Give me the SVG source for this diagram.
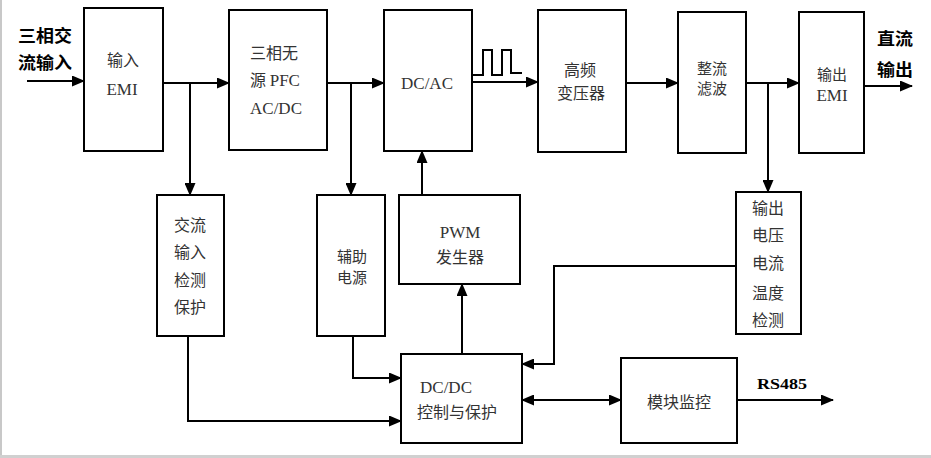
<svg xmlns="http://www.w3.org/2000/svg" width="931" height="458" viewBox="0 0 931 458">
<style>
.box{fill:#fff;stroke:#000;stroke-width:2}
.cn{font-family:"Noto Sans CJK SC","Noto Sans",sans-serif;font-size:16px;fill:#333;text-anchor:middle}
.sm{font-size:15px}
.en{font-family:"Liberation Serif",serif;font-size:17px;fill:#333;text-anchor:middle}
.lbl{font-family:"Noto Sans CJK SC","Noto Sans",sans-serif;font-size:17px;font-weight:bold;fill:#000}
.ln{fill:none;stroke:#000;stroke-width:2}
.arr{marker-end:url(#ah)}
</style>
<defs>
<marker id="ah" markerUnits="userSpaceOnUse" markerWidth="13" markerHeight="11" refX="12" refY="5.5" orient="auto-start-reverse"><path d="M0,0 L13,5.5 L0,11 z" fill="#000"/></marker>
</defs>
<rect x="0" y="0" width="931" height="458" fill="#fff"/>
<line x1="1" y1="0" x2="1" y2="458" stroke="#c8c8c8" stroke-width="2"/>
<rect x="0" y="455" width="931" height="3" fill="#d0d0d0"/>

<g id="in-label"><text class="lbl" x="18" y="42" textLength="54" lengthAdjust="spacingAndGlyphs">三相交</text><text class="lbl" x="18" y="69" textLength="54" lengthAdjust="spacingAndGlyphs">流输入</text></g>
<g id="out-label"><text class="lbl" x="877" y="45" textLength="36" lengthAdjust="spacingAndGlyphs">直流</text><text class="lbl" x="877" y="76" textLength="36" lengthAdjust="spacingAndGlyphs">输出</text></g>

<g id="emi-in"><rect class="box" x="84" y="8" width="79" height="143"/><text class="cn" x="123" y="66">输入</text><text class="en" x="122" y="95">EMI</text></g>
<g id="pfc"><rect class="box" x="229" y="10" width="98" height="140"/><text class="cn" x="274" y="59">三相无</text><text x="275" y="86" class="cn">源 <tspan style="font-family:'Liberation Serif',serif;font-size:17px">PFC</tspan></text><text class="en" x="276" y="114">AC/DC</text></g>
<g id="dcac"><rect class="box" x="384" y="10" width="88" height="141"/><text class="en" x="427" y="89">DC/AC</text></g>
<g id="hf-trans"><rect class="box" x="538" y="10" width="88" height="142"/><text class="cn" x="580" y="76">高频</text><text class="cn" x="581" y="99">变压器</text></g>
<g id="rect-filter"><rect class="box" x="678" y="12" width="68" height="141"/><text class="cn sm" x="712" y="74">整流</text><text class="cn sm" x="712" y="94">滤波</text></g>
<g id="emi-out"><rect class="box" x="799" y="12" width="65" height="141"/><text class="cn sm" x="832" y="80">输出</text><text class="en" x="832" y="101">EMI</text></g>

<g id="ac-detect"><rect class="box" x="157" y="195" width="67" height="141"/><text class="cn" x="190" y="231">交流</text><text class="cn" x="190" y="258">输入</text><text class="cn" x="190" y="286">检测</text><text class="cn" x="190" y="313">保护</text></g>
<g id="aux-power"><rect class="box" x="317" y="195" width="68" height="141"/><text class="cn sm" x="352" y="262">辅助</text><text class="cn sm" x="352" y="283">电源</text></g>
<g id="pwm"><rect class="box" x="399" y="195" width="121" height="89"/><text class="en" x="460" y="238">PWM</text><text class="cn" x="460" y="263">发生器</text></g>
<g id="out-detect"><rect class="box" x="736" y="192" width="65" height="142"/><text class="cn" x="768" y="214">输出</text><text class="cn" x="768" y="241">电压</text><text class="cn" x="768" y="269">电流</text><text class="cn" x="768" y="299">温度</text><text class="cn" x="768" y="326">检测</text></g>
<g id="dcdc"><rect class="box" x="401" y="354" width="121" height="89"/><text class="en" x="446" y="393">DC/DC</text><text class="cn" x="457" y="418">控制与保护</text></g>
<g id="monitor"><rect class="box" x="621" y="358" width="116" height="85"/><text class="cn" x="679" y="408">模块监控</text></g>
<g id="rs485-label"><text x="757" y="389" font-family="Liberation Serif,serif" font-size="15" font-weight="bold" textLength="50" lengthAdjust="spacingAndGlyphs">RS485</text></g>

<g id="connectors">
<path class="ln arr" d="M27,81 H84"/>
<path class="ln arr" d="M163,83 H229"/>
<path class="ln arr" d="M190,83 V195"/>
<path class="ln arr" d="M327,83 H384"/>
<path class="ln arr" d="M351,83 V195"/>
<path class="ln arr" d="M472,82 H538"/>
<path class="ln" stroke-width="1.5" d="M472,75 H483 V50 H492 V75 H502 V50 H511 V73 H522"/>
<path class="ln arr" d="M626,83 H678"/>
<path class="ln arr" d="M746,83 H799"/>
<path class="ln arr" d="M768,83 V192"/>
<path class="ln arr" d="M864,86 H912"/>
<path class="ln arr" d="M422,195 V151"/>
<path class="ln arr" d="M462,354 V284"/>
<path class="ln arr" d="M736,266 H554 V364 H522"/>
<path class="ln arr" d="M353,336 V378 H401"/>
<path class="ln arr" d="M188,336 V421 H401"/>
<path class="ln arr" style="marker-start:url(#ah)" d="M522,400 H621"/>
<path class="ln arr" d="M737,400 H833"/>
</g>
</svg>
